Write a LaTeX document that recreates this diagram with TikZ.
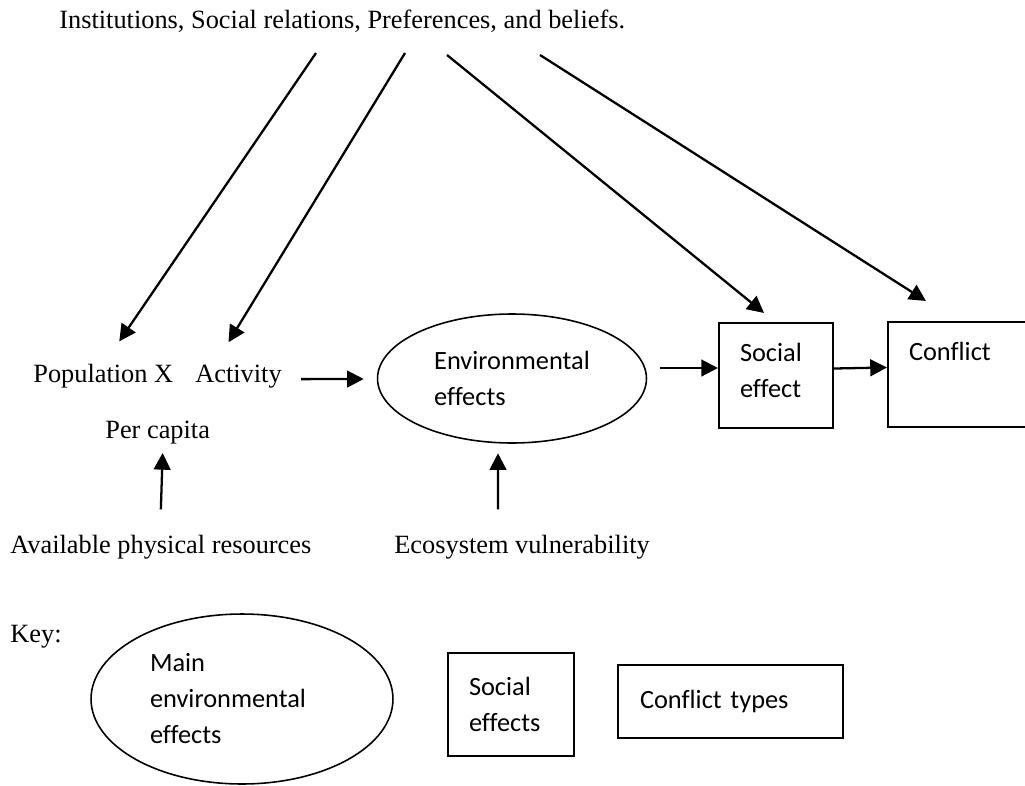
\documentclass[tikz,border=0pt]{standalone}
\usepackage{fontspec}
\setmainfont[Ligatures=CommonOff]{Liberation Serif}
\newfontfamily\sansbody[Ligatures=CommonOff]{Carlito}
\usetikzlibrary{arrows.meta,shapes.geometric}
\tikzset{
    txt/.style={font=\fontsize{15}{18}\selectfont, inner sep=0pt, anchor=base west},
    boxtxt/.style={font=\sansbody\fontsize{15}{20.5}\selectfont, align=left},
    effbox/.style={boxtxt, draw, line width=1.2pt, rectangle, inner ysep=0pt, inner xsep=0.42cm},
    effoval/.style={boxtxt, draw, line width=0.9pt, ellipse, inner sep=0pt},
    arr/.style={line width=1.3pt, -{Triangle[length=9.5pt,width=9.5pt]}}
}
\begin{document}
\begin{tikzpicture}[x=0.02cm,y=-0.02cm]
                \useasboundingbox (0,0) rectangle (1025,785);
                \node[txt] (inst) at (59,28) {Institutions, Social relations, Preferences, and beliefs.};
                \coordinate (i1) at (316,53);
                \coordinate (i2) at (405,53);
                \coordinate (i3) at (447,55);
                \coordinate (i4) at (540,55);

                \node[txt] (pop) at (33,382) {Population X};
                \node[txt] (act) at (195,382) {Activity};
                \node[txt] (percap) at (105,438) {Per capita};
                \node[txt] (avail) at (10,553) {Available physical resources};
                \node[txt] (eco) at (394,553) {Ecosystem vulnerability};

                \node[effoval, minimum width=5.38cm, minimum height=2.58cm] (env) at (512,378.5) {Environmental\\effects};
                \node[effbox, text width=1.44cm, minimum height=2.1cm] (social) at (776,375.5) {Social\\effect\\[-15pt]\mbox{}};
                \node[effbox, text width=2.36cm, minimum height=2.1cm] (conflict) at (968,374.5) {Conflict\\\mbox{}\\[-15pt]\mbox{}};

                \draw[arr] (i1) -- ([shift={(16,-22)}]pop.north);
                \draw[arr] (i2) -- ([shift={(-10,-22)}]act.north);
                \draw[arr] (i3) -- ([shift={(-12,-9)}]social.north);
                \draw[arr] (i4) -- ([shift={(39,-20)}]conflict.north west);
                \draw[arr] ([shift={(19,3)}]act.east) -- ([shift={(-13,0.5)}]env.west);
                \draw[arr] ([shift={(13,-10.5)}]env.east) -- ([shift={(0,-7.5)}]social.west);
                \draw[arr] ([shift={(0,-7)}]social.east) -- ([shift={(0,-7)}]conflict.west);
                \draw[arr] ([shift={(0,-25)}]avail.north) -- ([shift={(5,9)}]percap.south);
                \draw[arr] ([shift={(-24,-25)}]eco.north) -- ([shift={(-14,9.5)}]env.south);

                \node[txt] (key) at (10,642) {Key:};
                \node[effoval, text width=3.68cm, minimum width=6.04cm, minimum height=3.4cm] (keyenv) at (242,699) {Main\\environmental\\effects};
                \node[effbox, text width=1.68cm, minimum height=2.06cm] (keysoc) at (511,704.5) {Social\\effects};
                \node[effbox, text width=3.62cm, inner xsep=0.44cm, minimum height=1.46cm] (keycon) at (730.5,701.5) {Conflict types};
\end{tikzpicture}
\end{document}
